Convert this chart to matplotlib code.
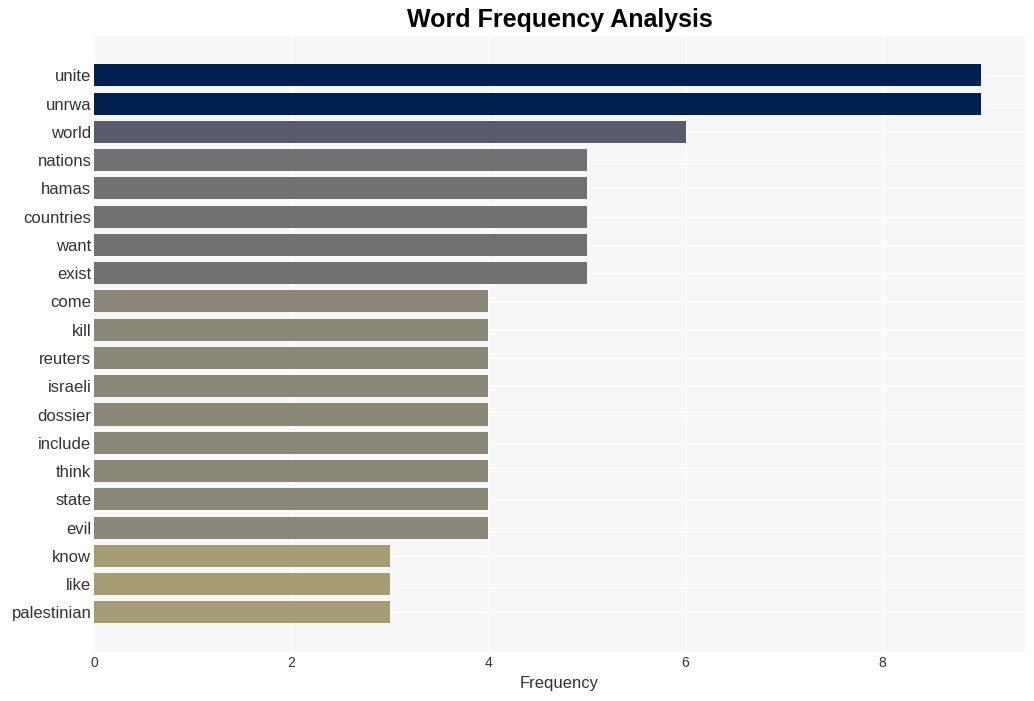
import matplotlib.pyplot as plt

plt.rcParams['font.family'] = ['Liberation Sans', 'DejaVu Sans']

words = ['unite', 'unrwa', 'world', 'nations', 'hamas', 'countries', 'want', 'exist',
         'come', 'kill', 'reuters', 'israeli', 'dossier', 'include', 'think', 'state',
         'evil', 'know', 'like', 'palestinian']
counts = [9, 9, 6, 5, 5, 5, 5, 5, 4, 4, 4, 4, 4, 4, 4, 4, 4, 3, 3, 3]
count_colors = {9: '#00204f', 6: '#575b6d', 5: '#707173', 4: '#8a8778', 3: '#a69c74'}

fig, ax = plt.subplots(figsize=(10.34, 7.01), dpi=100)
fig.subplots_adjust(left=0.091, right=0.991, top=0.949, bottom=0.07)

ax.set_facecolor('#f7f7f7')
ax.barh(range(len(words)), counts, height=0.78,
        color=[count_colors[c] for c in counts], zorder=2)

ax.set_yticks(range(len(words)))
ax.set_yticklabels(words, fontsize=12, color='#333333')
ax.set_ylim(len(words) - 1 + 1.4, -1.4)
ax.set_xlim(0, 9.44)
ax.set_xticks([0, 2, 4, 6, 8])
ax.tick_params(axis='x', labelsize=10, colors='#333333', length=0, pad=3)
ax.tick_params(axis='y', length=0, pad=2)
ax.grid(True, color='white', linewidth=1, zorder=0)
ax.set_axisbelow(True)
for s in ax.spines.values():
    s.set_visible(False)

ax.set_xlabel('Frequency', fontsize=12, color='#333333', labelpad=4)
ax.set_title('Word Frequency Analysis', fontsize=18, fontweight='bold', pad=6)

fig.savefig('out.png')
